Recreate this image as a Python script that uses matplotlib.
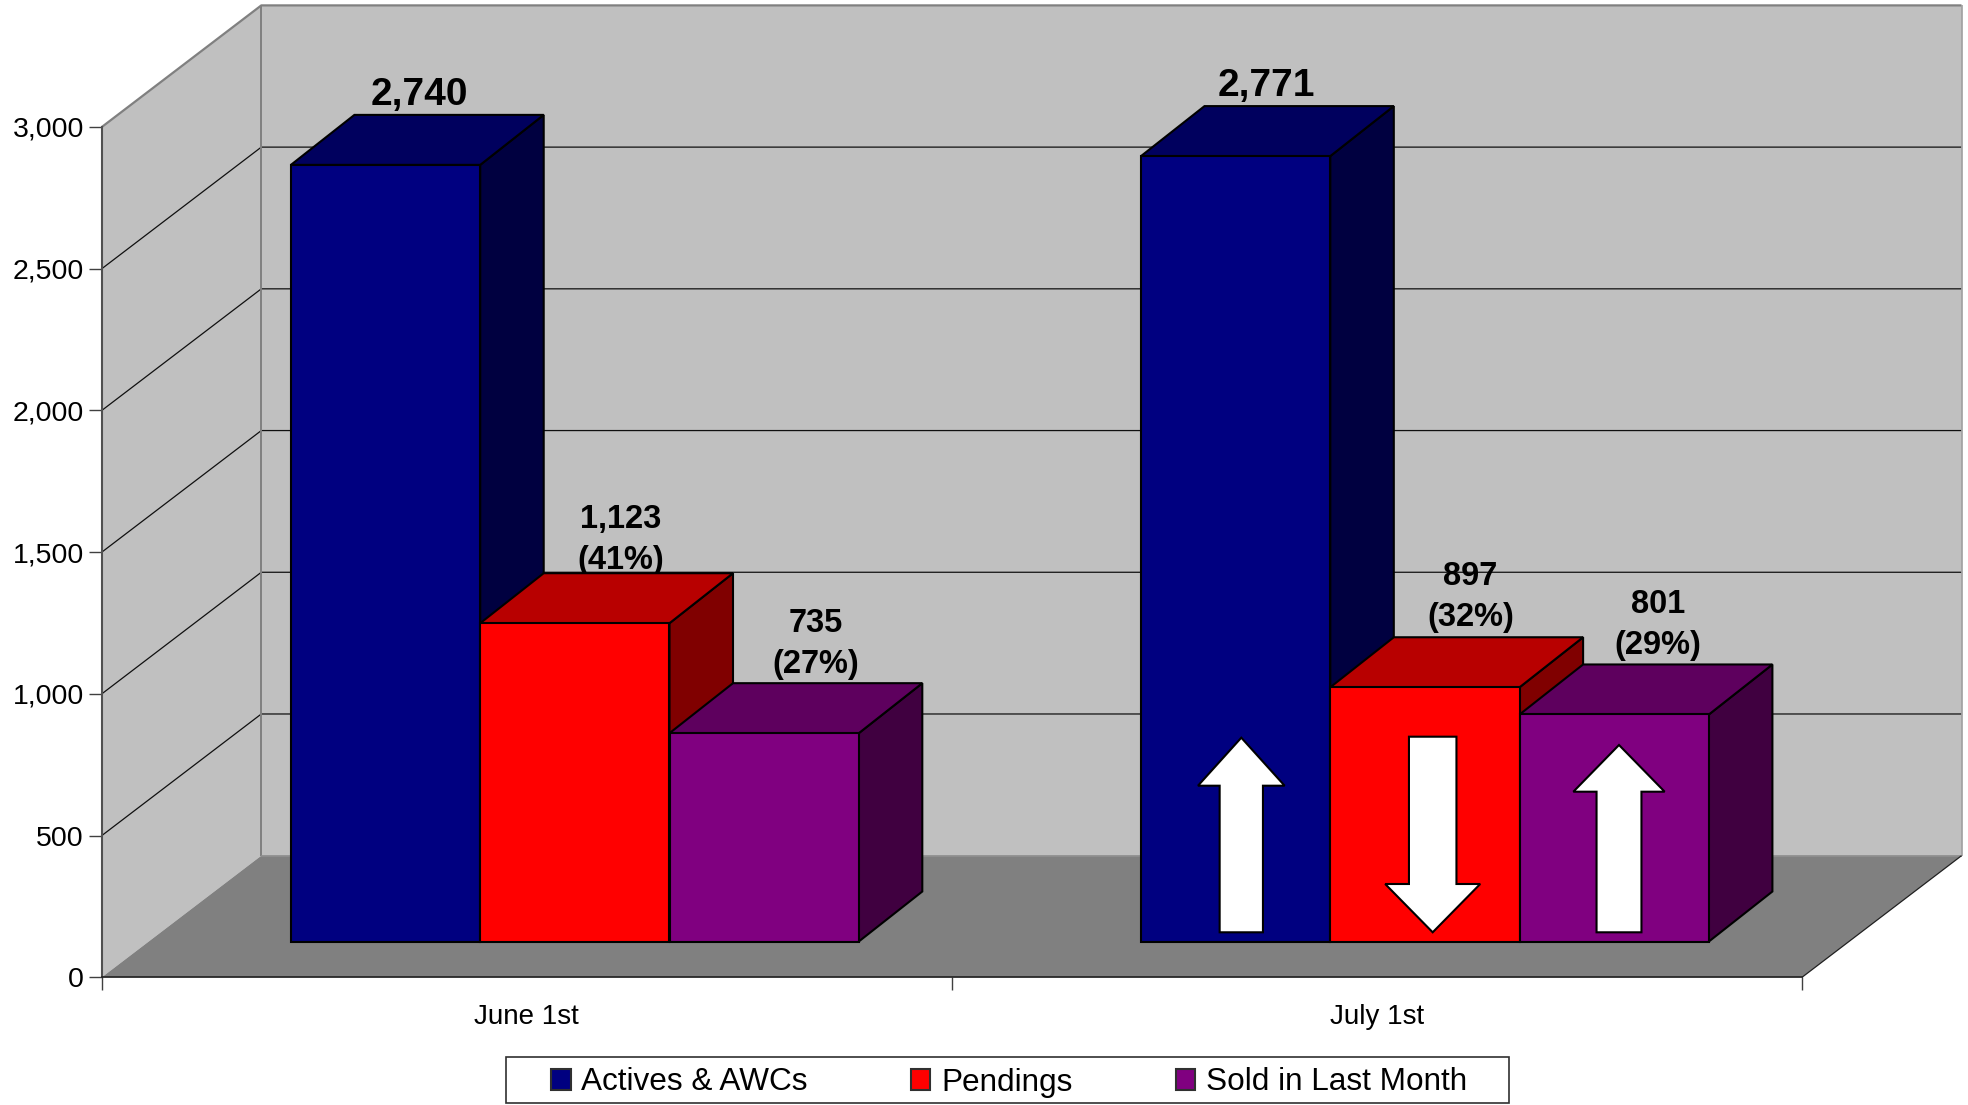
import matplotlib
matplotlib.use("Agg")
import matplotlib.pyplot as plt
from matplotlib.patches import Polygon, Rectangle, Patch, FancyArrow
from matplotlib.ticker import FuncFormatter
from matplotlib.transforms import Affine2D

plt.rcParams['font.family'] = ['Liberation Sans', 'DejaVu Sans']

# ---- data ----
categories = ["June 1st", "July 1st"]
series_names = ["Actives & AWCs", "Pendings", "Sold in Last Month"]
actives = [2740, 2771]
pendings = [1123, 897]
sold = [735, 801]
pct_pendings = ["41%", "32%"]
pct_sold = ["27%", "29%"]
y_ticks = [0, 500, 1000, 1500, 2000, 2500, 3000]

# ---- styles ----
W, H = 1968, 1105
front = ["#000080", "#FF0000", "#800080"]
top = ["#00005E", "#B80000", "#5E005E"]
side = ["#000040", "#800000", "#400040"]
WALL, FLOOR, EDGE = "#C0C0C0", "#808080", "#808080"

fig = plt.figure(figsize=(W / 100, H / 100), dpi=100, facecolor="white")
L, R, T, B = 101.8, 1802.0, 127.0, 977.3
ax = fig.add_axes([L / W, (H - B) / H, (R - L) / W, (B - T) / H])
ax.set_xlim(0, len(categories))
ax.set_ylim(0, 3000)
ax.patch.set_visible(False)

px_x = (R - L) / len(categories)   # pixels per category
px_y = (B - T) / 3000              # pixels per unit
DX, DY = 159.5 / px_x, 121.6 / px_y       # depth of the floor
BDX, BDY = 63.5 / px_x, 50.0 / px_y       # depth of a bar
OX, OY = (DX - BDX) / 2, (DY - BDY) / 2   # bars sit mid-depth
BW = 189.3 / px_x
GAP = (1 - 3 * BW) / 2
xmax = len(categories)
ymax = y_ticks[-1]


def poly(pts, fc, ec, lw, z):
    ax.add_patch(Polygon(pts, closed=True, facecolor=fc, edgecolor=ec, linewidth=lw,
                         zorder=z, clip_on=False, joinstyle="miter"))


def line(xs, ys, c, lw, z):
    ax.plot(xs, ys, color=c, lw=lw, zorder=z, clip_on=False, solid_capstyle="butt")


# walls and floor
poly([(0, 0), (DX, DY), (DX, ymax + DY), (0, ymax)], WALL, "none", 0, 1)
poly([(DX, DY), (xmax + DX, DY), (xmax + DX, ymax + DY), (DX, ymax + DY)], WALL, "none", 0, 1)
poly([(0, 0), (xmax, 0), (xmax + DX, DY), (DX, DY)], FLOOR, "none", 0, 1.2)
for v in y_ticks[1:-1]:
    line([0, DX, xmax + DX], [v, v + DY, v + DY], "#101010", 0.9, 1.5)
line([DX, DX], [DY, ymax + DY], EDGE, 1.4, 1.6)
line([0, DX, xmax + DX], [ymax, ymax + DY, ymax + DY], EDGE, 1.6, 1.6)
line([xmax + DX, xmax + DX], [DY, ymax + DY], "#A0A0A0", 1.2, 1.6)
line([DX, xmax + DX], [DY, DY], "#909090", 1.2, 1.6)
line([xmax, xmax + DX], [0, DY], "#202020", 0.9, 1.6)

# bars
z = 2.0
for i in range(len(categories)):
    for j, vals in enumerate([actives, pendings, sold]):
        v = vals[i]
        x0 = i + GAP + j * BW + OX
        x1 = x0 + BW
        y0 = OY
        y1 = OY + v
        poly([(x1, y0), (x1 + BDX, y0 + BDY), (x1 + BDX, y1 + BDY), (x1, y1)], side[j], "black", 1.5, z)
        poly([(x0, y1), (x1, y1), (x1 + BDX, y1 + BDY), (x0 + BDX, y1 + BDY)], top[j], "black", 1.5, z + 0.01)
        poly([(x0, y0), (x1, y0), (x1, y1), (x0, y1)], front[j], "black", 1.5, z + 0.02)
        z += 0.1


def label(i, j, v, txt, size, off):
    xc = i + GAP + j * BW + OX + BW / 2 + BDX
    ax.annotate(txt, xy=(xc, OY + v + BDY), xytext=off, textcoords="offset pixels",
                ha="center", va="center", fontsize=size, fontweight="bold", color="black",
                zorder=1.9 if j == 1 and i == 0 else 6, linespacing=1.42, annotation_clip=False)


label(0, 0, actives[0], f"{actives[0]:,}", 28, (-30, 20))
label(1, 0, actives[1], f"{actives[1]:,}", 28, (-33, 20))
label(0, 1, pendings[0], f"{pendings[0]:,}\n({pct_pendings[0]})", 23.5, (-18, 33))
label(1, 1, pendings[1], f"{pendings[1]:,}\n({pct_pendings[1]})", 23.5, (-18, 40))
label(0, 2, sold[0], f"{sold[0]:,}\n({pct_sold[0]})", 23.5, (-12, 39))
label(1, 2, sold[1], f"{sold[1]:,}\n({pct_sold[1]})", 23.5, (-20, 39.5))

# white trend arrows, placed in image pixels
px = Affine2D().scale(1, -1).translate(0, H)
for xc, tail, tip, hb, hw, sw in [(1241.3, 932.3, 737.7, 785.7, 86.6, 43.3),
                                  (1432.7, 736.7, 932.3, 884, 95, 47.5),
                                  (1619, 932.3, 745, 791.7, 91.3, 44.9)]:
    fig.add_artist(FancyArrow(xc, tail, 0, tip - tail, width=sw, head_width=hw,
                              head_length=abs(tip - hb), length_includes_head=True,
                              facecolor="white", edgecolor="black", linewidth=1.5,
                              transform=px, zorder=10))

# axes
for s in ("top", "right"):
    ax.spines[s].set_visible(False)
ax.spines["left"].set_color("#505050")
ax.spines["left"].set_linewidth(1.5)
ax.spines["bottom"].set_color("#202020")
ax.spines["bottom"].set_linewidth(1.2)
ax.spines["left"].set_zorder(1.7)
ax.spines["bottom"].set_zorder(1.7)
ax.set_yticks(y_ticks)
ax.yaxis.set_major_formatter(FuncFormatter(lambda v, _: f"{int(v):,}"))
ax.tick_params(axis="y", length=9.4, width=1.0, color="#404040", labelsize=20.5, pad=3.5)
ax.set_xticks(range(len(categories) + 1))
ax.set_xticklabels([])
ax.set_xticks([i + 0.5 for i in range(len(categories))], minor=True)
ax.set_xticklabels(categories, minor=True, fontsize=20)
ax.tick_params(axis="x", which="major", length=9.4, width=1.0, color="#404040")
ax.tick_params(axis="x", which="minor", length=0, pad=19.5)

# legend
fig.add_artist(Rectangle((506, 1057), 1003, 46, facecolor="white", edgecolor="#303030",
                         linewidth=1.2, transform=px))
handles = [Patch(facecolor=c, edgecolor="#303030", linewidth=1.5) for c in front]
fig.legend(handles=handles, labels=series_names, ncol=3, frameon=False, fontsize=22.7,
           loc="center", bbox_to_anchor=(1009 / W, (H - 1082.5) / H), borderpad=0,
           handlelength=0.62, handleheight=0.62, handletextpad=0.34, columnspacing=3.27,
           labelspacing=0)

fig.savefig("out.png", dpi=100, facecolor="white")
